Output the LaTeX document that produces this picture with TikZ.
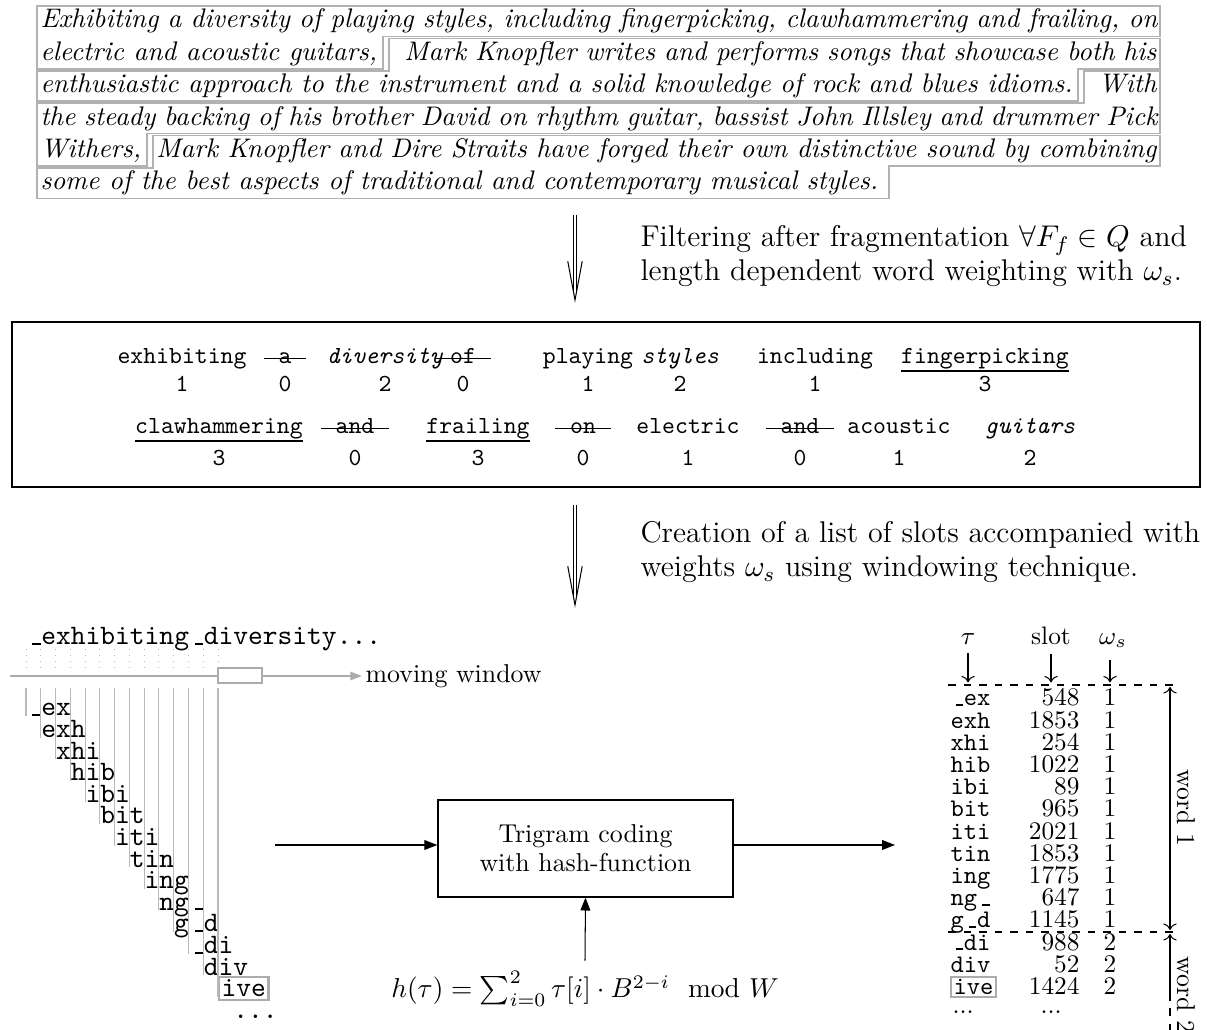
\documentclass[tikz,border=0pt]{standalone}
\usepackage{fix-cm}
\usepackage{amsmath}
\usepackage{fontspec}
\usetikzlibrary{arrows.meta}

\newdimen\pxu \pxu=0.387pt
\newcommand\us{\makebox[0.525em][l]{\hspace{0.2em}\rule{0.3em}{0.07em}}}
\newcommand\wstrike[1]{\setbox0\hbox{\hspace{0.6em}#1\hspace{0.6em}}\rlap{\rule[0.45ex]{\wd0}{0.6pt}}\box0}
\newcommand\wunder[1]{\setbox0\hbox{#1}\rlap{\rule[-0.32em]{\wd0}{0.8pt}}\box0}
\newcommand\parafont{\fontsize{10.4}{12.5}\selectfont\itshape}
\newcommand\wordfont{\fontsize{9.5}{11}\selectfont\ttfamily}
\newcommand\notefont{\fontsize{11.6}{13.9}\selectfont}
\newcommand\trifont{\fontsize{10.89}{13}\selectfont\ttfamily}
\newcommand\tabfont{\fontsize{9.8}{11}\selectfont}

\begin{document}
\begin{tikzpicture}[x=0.387pt, y=-0.387pt,
  para/.style={font=\parafont, inner sep=0pt, anchor=base west},
  sentbox/.style={draw=gray!60, line width=0.6pt},
  note/.style={font=\notefont, inner sep=0pt, anchor=base west},
  shaft/.style={line width=0.4pt},
  vhead/.style={line width=0.4pt},
  filtbox/.style={draw, line width=0.8pt, minimum width=459.8pt, minimum height=63.9pt},
  word/.style={font=\wordfont, inner sep=0pt, anchor=base},
  tri/.style={font=\trifont, inner sep=0pt, anchor=base west},
  marked/.style={draw=gray!65, line width=0.8pt, inner sep=1pt},
  guide/.style={draw=gray!55, line width=0.4pt},
  dotguide/.style={draw=gray!55, line width=0.35pt, dotted},
  winline/.style={draw=gray!65, line width=0.8pt, -{Triangle[length=4.5pt, width=3.2pt]}},
  winbox/.style={draw=gray!65, line width=0.8pt, fill=white},
  hashbox/.style={draw, line width=0.5pt, minimum width=114.2pt, minimum height=37.5pt, align=center, font=\fontsize{10}{11.3}\selectfont},
  flow/.style={line width=0.4pt, -{Triangle[length=5pt, width=3.8pt]}},
  cell/.style={font=\tabfont, inner sep=0pt},
  tgram/.style={cell, anchor=base west, font=\tabfont\ttfamily},
  slotnum/.style={cell, anchor=base east},
  wnum/.style={cell, anchor=base},
  ptr/.style={line width=0.4pt, ->},
  sepline/.style={line width=0.4pt, dashed}]
  \useasboundingbox (0,0) rectangle (1207,1030);

  % input paragraph, one node per line fragment
  \node[para] (p1) at (40,28) {\hbox to 1117\pxu{Exhibiting a diversity of playing styles, including fingerpicking, clawhammering and frailing, on}};
  \node[para] (p2a) at (40,60.4) {electric and acoustic guitars,};
  \node[para, anchor=base east] (p2b) at (1157,60.4) {\hbox to 752\pxu{Mark Knopfler writes and performs songs that showcase both his}};
  \node[para] (p3a) at (40,92.8) {enthusiastic approach to the instrument and a solid knowledge of rock and blues idioms.};
  \node[para, anchor=base east] (p3b) at (1157,92.8) {With};
  \node[para] (p4) at (40,125.2) {\hbox to 1117\pxu{the steady backing of his brother David on rhythm guitar, bassist John Illsley and drummer Pick}};
  \node[para] (p5a) at (40,157.6) {Withers,};
  \node[para, anchor=base east] (p5b) at (1157,157.6) {\hbox to 1000\pxu{Mark Knopfler and Dire Straits have forged their own distinctive sound by combining}};
  \node[para] (p6) at (40,190) {some of the best aspects of traditional and contemporary musical styles.};

  \coordinate (ya0) at (0,6);     \coordinate (yb0) at (0,36.4);
  \coordinate (ya1) at (0,38.4);  \coordinate (yb1) at (0,68.8);
  \coordinate (ya2) at (0,70.8);  \coordinate (yb2) at (0,101.2);
  \coordinate (ya3) at (0,103.2); \coordinate (yb3) at (0,133.6);
  \coordinate (ya4) at (0,135.6); \coordinate (yb4) at (0,166);
  \coordinate (ya5) at (0,168);   \coordinate (yb5) at (0,198.4);
  \coordinate (k1) at ([xshift=2pt]p2a.base east);  \coordinate (k1b) at ([xshift=4.3pt]p2a.base east);
  \coordinate (k2) at ([xshift=2pt]p3a.base east);  \coordinate (k2b) at ([xshift=4.3pt]p3a.base east);
  \coordinate (k3) at ([xshift=2pt]p5a.base east);  \coordinate (k3b) at ([xshift=4.3pt]p5a.base east);
  \coordinate (k4) at ([xshift=4pt]p6.base east);

  % sentence outlines
  \draw[sentbox] (37,6) -- (1160,6) -- (1160,36.4) -- (k1 |- yb0) -- (k1 |- yb1) -- (37,68.8) -- cycle;
  \draw[sentbox] (k1b |- ya1) -- (1160,38.4) -- (1160,68.8) -- (k2 |- yb1) -- (k2 |- yb2) -- (37,101.2) -- (37,70.8) -- (k1b |- ya2) -- cycle;
  \draw[sentbox] (k2b |- ya2) -- (1160,70.8) -- (1160,133.6) -- (k3 |- yb3) -- (k3 |- yb4) -- (37,166) -- (37,103.2) -- (k2b |- ya3) -- cycle;
  \draw[sentbox] (k3b |- ya4) -- (1160,135.6) -- (1160,166) -- (k4 |- yb4) -- (k4 |- yb5) -- (37,198.4) -- (37,168) -- (k3b |- ya5) -- cycle;

  % first step
  \coordinate (d1s) at (575,215);
  \coordinate (d1e) at (575,300);
  \draw[shaft] ([xshift=-0.6pt]d1s) -- ([xshift=-0.6pt, yshift=3pt]d1e);
  \draw[shaft] ([xshift=0.6pt]d1s) -- ([xshift=0.6pt, yshift=3pt]d1e);
  \draw[vhead] ([xshift=-2.8pt, yshift=15pt]d1e) -- (d1e) -- ([xshift=2.8pt, yshift=15pt]d1e);
  \node[note] (f1) at (640,247) {Filtering after fragmentation $\forall F_f\in Q$ and};
  \node[note] (f2) at (640,281) {length dependent word weighting with $\omega_s$.};

  % filtered words with weights
  \node[filtbox] (filt) at (606,404.5) {};
  \node[word] (w1) at (182,364) {exhibiting};
  \node[word] (w2) at (285,364) {\wstrike{a}};
  \node[word] (w3) at (385,364) {\textit{diversity}};
  \node[word] (w4) at (463,364) {\wstrike{of}};
  \node[word] (w5) at (588,364) {playing};
  \node[word] (w6) at (680,364) {\textit{styles}};
  \node[word] (w7) at (815,364) {including};
  \node[word] (w8) at (985,364) {\wunder{fingerpicking}};
  \node[word] (n1) at (182,392) {1};
  \node[word] (n2) at (285,392) {0};
  \node[word] (n3) at (385,392) {2};
  \node[word] (n4) at (463,392) {0};
  \node[word] (n5) at (588,392) {1};
  \node[word] (n6) at (680,392) {2};
  \node[word] (n7) at (815,392) {1};
  \node[word] (n8) at (985,392) {3};
  \node[word] (w9) at (219,434) {\wunder{clawhammering}};
  \node[word] (w10) at (355,434) {\wstrike{and}};
  \node[word] (w11) at (478,434) {\wunder{frailing}};
  \node[word] (w12) at (583,434) {\wstrike{on}};
  \node[word] (w13) at (688,434) {electric};
  \node[word] (w14) at (800,434) {\wstrike{and}};
  \node[word] (w15) at (899,434) {acoustic};
  \node[word] (w16) at (1030,434) {\textit{guitars}};
  \node[word] (n9) at (219,466) {3};
  \node[word] (n10) at (355,466) {0};
  \node[word] (n11) at (478,466) {3};
  \node[word] (n12) at (583,466) {0};
  \node[word] (n13) at (688,466) {1};
  \node[word] (n14) at (800,466) {0};
  \node[word] (n15) at (899,466) {1};
  \node[word] (n16) at (1030,466) {2};

  % second step
  \coordinate (d2s) at (575,505);
  \coordinate (d2e) at (575,605);
  \draw[shaft] ([xshift=-0.6pt]d2s) -- ([xshift=-0.6pt, yshift=3pt]d2e);
  \draw[shaft] ([xshift=0.6pt]d2s) -- ([xshift=0.6pt, yshift=3pt]d2e);
  \draw[vhead] ([xshift=-2.8pt, yshift=15pt]d2e) -- (d2e) -- ([xshift=2.8pt, yshift=15pt]d2e);
  \node[note] (c1) at (640,543) {Creation of a list of slots accompanied with};
  \node[note] (c2) at (640,577) {weights $\omega_s$ using windowing technique.};

  % moving window over the text
  \node[tri] (seq) at (26,645) {\us exhibiting\us diversity...};
  \coordinate (dA) at (0,649);
  \coordinate (dB) at (0,673);
  \coordinate (gtop) at (0,688);
  \coordinate (wstart) at (10,676);
  \node[anchor=west, inner sep=1.2pt, font=\fontsize{10}{12}\selectfont] (mw) at (362,676) {moving window};
  \draw[winline] (wstart) -- (mw.west);
  \draw[winbox] (218,668) rectangle (262,683);

  \node[tri] (g1) at (26,716) {\us ex};
  \draw[guide] (g1.base west) -- (g1.base west |- gtop); \draw[dotguide] (g1.base west |- dA) -- (g1.base west |- dB);
  \node[tri] (g2) at (40.77,737.6) {exh};
  \draw[guide] (g2.base west) -- (g2.base west |- gtop); \draw[dotguide] (g2.base west |- dA) -- (g2.base west |- dB);
  \node[tri] (g3) at (55.54,759.2) {xhi};
  \draw[guide] (g3.base west) -- (g3.base west |- gtop); \draw[dotguide] (g3.base west |- dA) -- (g3.base west |- dB);
  \node[tri] (g4) at (70.31,780.8) {hib};
  \draw[guide] (g4.base west) -- (g4.base west |- gtop); \draw[dotguide] (g4.base west |- dA) -- (g4.base west |- dB);
  \node[tri] (g5) at (85.08,802.4) {ibi};
  \draw[guide] (g5.base west) -- (g5.base west |- gtop); \draw[dotguide] (g5.base west |- dA) -- (g5.base west |- dB);
  \node[tri] (g6) at (99.85,824) {bit};
  \draw[guide] (g6.base west) -- (g6.base west |- gtop); \draw[dotguide] (g6.base west |- dA) -- (g6.base west |- dB);
  \node[tri] (g7) at (114.62,845.6) {iti};
  \draw[guide] (g7.base west) -- (g7.base west |- gtop); \draw[dotguide] (g7.base west |- dA) -- (g7.base west |- dB);
  \node[tri] (g8) at (129.39,867.2) {tin};
  \draw[guide] (g8.base west) -- (g8.base west |- gtop); \draw[dotguide] (g8.base west |- dA) -- (g8.base west |- dB);
  \node[tri] (g9) at (144.16,888.8) {ing};
  \draw[guide] (g9.base west) -- (g9.base west |- gtop); \draw[dotguide] (g9.base west |- dA) -- (g9.base west |- dB);
  \node[tri] (g10) at (158.93,910.4) {ng\us};
  \draw[guide] (g10.base west) -- (g10.base west |- gtop); \draw[dotguide] (g10.base west |- dA) -- (g10.base west |- dB);
  \node[tri] (g11) at (173.7,932) {g\us d};
  \draw[guide] (g11.base west) -- (g11.base west |- gtop); \draw[dotguide] (g11.base west |- dA) -- (g11.base west |- dB);
  \node[tri] (g12) at (188.47,953.6) {\us di};
  \draw[guide] (g12.base west) -- (g12.base west |- gtop); \draw[dotguide] (g12.base west |- dA) -- (g12.base west |- dB);
  \node[tri] (g13) at (203.24,975.2) {div};
  \draw[guide] (g13.base west) -- (g13.base west |- gtop); \draw[dotguide] (g13.base west |- dA) -- (g13.base west |- dB);
  \node[tri, marked] (g14) at (218.01,996.8) {ive};
  \draw[guide] (g14.base west) -- (g14.base west |- gtop); \draw[dotguide] (g14.base west |- dA) -- (g14.base west |- dB);
  \node[tri] (gmore) at (232.78,1018.4) {...};

  % hashing
  \node[hashbox] (hash) at (585.5,848.5) {Trigram coding\\with hash-function};
  \coordinate (cin) at (275,845);
  \coordinate (cout) at (895,845);
  \draw[flow] (cin) -- (cin -| hash.west);
  \draw[flow] (cout -| hash.east) -- (cout);
  \node[anchor=base, inner sep=4pt, font=\fontsize{10.6}{13}\selectfont] (hfun) at (585,998) {$h(\tau)=\sum_{i=0}^{2}\tau[i]\cdot B^{2-i} \mod W$};
  \draw[flow] (hfun.north) -- (hash.south);

  % slot table
  \node[cell, anchor=base] (htau) at (968,645) {$\tau$};
  \node[cell, anchor=base] (hslot) at (1051,645) {slot};
  \node[cell, anchor=base] (homega) at (1113,645) {$\omega_s$};
  \coordinate (dtop) at (0,685);
  \coordinate (dmid) at (0,932);
  \draw[sepline] (948,685) -- (1178,685);
  \draw[sepline] (948,932) -- (1178,932);
  \draw[ptr, shorten <=3pt, shorten >=1pt] (htau.south) -- (htau.south |- dtop);
  \draw[ptr, shorten <=3pt, shorten >=1pt] (hslot.south) -- (hslot.south |- dtop);
  \draw[ptr, shorten <=3pt, shorten >=1pt] (1110,652) -- (1110,685);

  \node[tgram] (t1) at (950,706) {\us ex};   \node[slotnum] (s1) at (1080,706) {548};  \node[wnum] (o1) at (1110,706) {1};
  \node[tgram] (t2) at (950,728.2) {exh};    \node[slotnum] (s2) at (1080,728.2) {1853}; \node[wnum] (o2) at (1110,728.2) {1};
  \node[tgram] (t3) at (950,750.4) {xhi};    \node[slotnum] (s3) at (1080,750.4) {254};  \node[wnum] (o3) at (1110,750.4) {1};
  \node[tgram] (t4) at (950,772.6) {hib};    \node[slotnum] (s4) at (1080,772.6) {1022}; \node[wnum] (o4) at (1110,772.6) {1};
  \node[tgram] (t5) at (950,794.8) {ibi};    \node[slotnum] (s5) at (1080,794.8) {89};   \node[wnum] (o5) at (1110,794.8) {1};
  \node[tgram] (t6) at (950,817) {bit};      \node[slotnum] (s6) at (1080,817) {965};    \node[wnum] (o6) at (1110,817) {1};
  \node[tgram] (t7) at (950,839.2) {iti};    \node[slotnum] (s7) at (1080,839.2) {2021}; \node[wnum] (o7) at (1110,839.2) {1};
  \node[tgram] (t8) at (950,861.4) {tin};    \node[slotnum] (s8) at (1080,861.4) {1853}; \node[wnum] (o8) at (1110,861.4) {1};
  \node[tgram] (t9) at (950,883.6) {ing};    \node[slotnum] (s9) at (1080,883.6) {1775}; \node[wnum] (o9) at (1110,883.6) {1};
  \node[tgram] (t10) at (950,905.8) {ng\us}; \node[slotnum] (s10) at (1080,905.8) {647}; \node[wnum] (o10) at (1110,905.8) {1};
  \node[tgram] (t11) at (950,928) {g\us d};  \node[slotnum] (s11) at (1080,928) {1145};  \node[wnum] (o11) at (1110,928) {1};
  \node[tgram] (t12) at (950,950.2) {\us di}; \node[slotnum] (s12) at (1080,950.2) {988}; \node[wnum] (o12) at (1110,950.2) {2};
  \node[tgram] (t13) at (950,972.4) {div};   \node[slotnum] (s13) at (1080,972.4) {52};  \node[wnum] (o13) at (1110,972.4) {2};
  \node[tgram, marked] (t14) at (950,994.6) {ive}; \node[slotnum] (s14) at (1080,994.6) {1424}; \node[wnum] (o14) at (1110,994.6) {2};
  \node[cell, anchor=base west] (t15) at (952,1014) {...};
  \node[cell, anchor=base west] (s15) at (1040,1014) {...};

  \coordinate (wa) at (1170,687);
  \coordinate (wb) at (1170,930);
  \coordinate (wc) at (1170,934);
  \coordinate (wd) at (1170,993);
  \coordinate (we) at (1170,1040);
  \draw[ptr, <->] (wa) -- (wb);
  \draw[ptr, <-] (wc) -- (wd);
  \draw[line width=0.4pt, dashed] (wd) -- (we);
  \node[cell, rotate=-90, font=\fontsize{10}{12}\selectfont] (wl1) at (1186,808) {word 1};
  \node[cell, rotate=-90, font=\fontsize{10}{12}\selectfont] (wl2) at (1186,995) {word 2};
\end{tikzpicture}
\end{document}
